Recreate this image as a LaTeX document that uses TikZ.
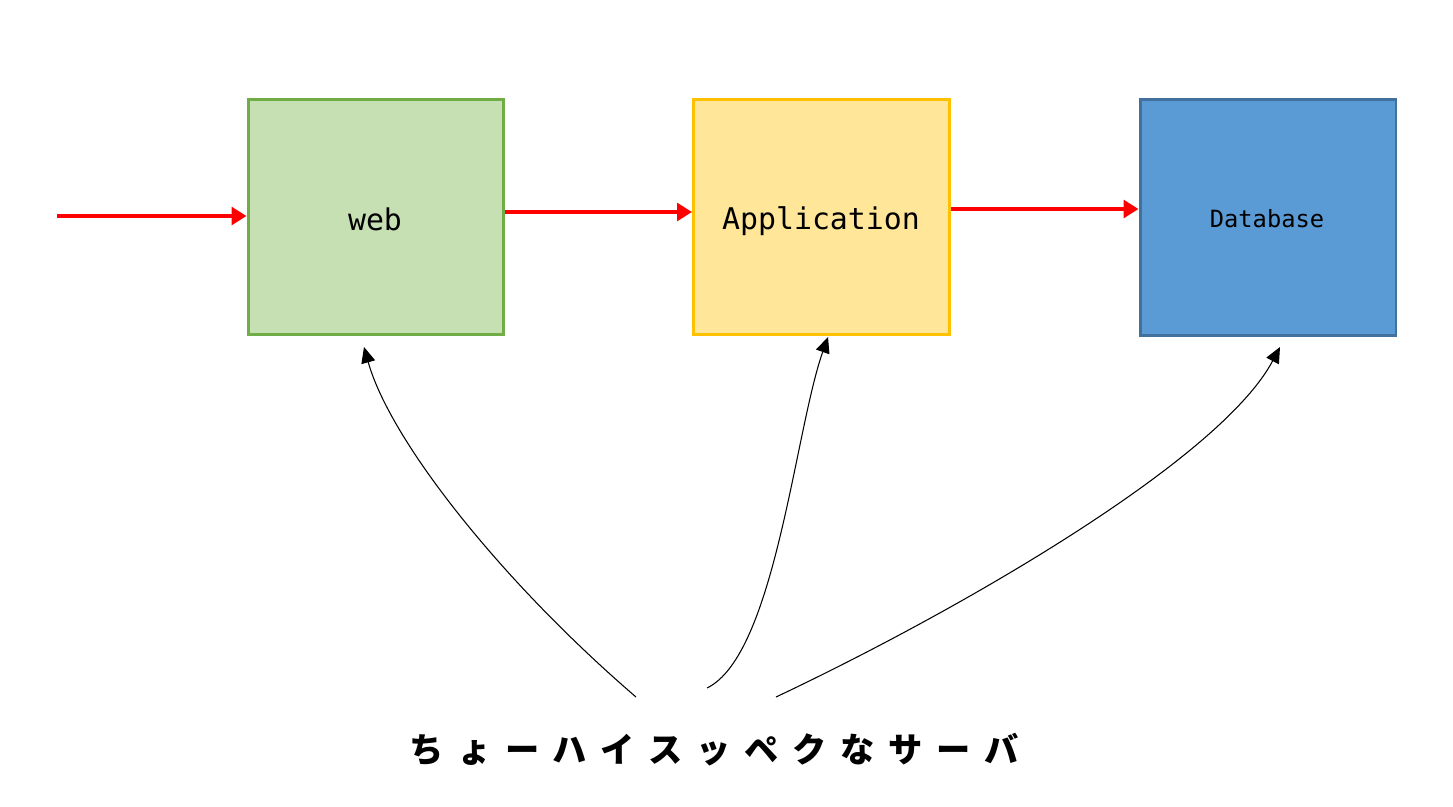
\documentclass[tikz,border=0pt]{standalone}
\usepackage{fontspec}
\setmainfont{DejaVu Sans Mono}
\newfontfamily\jpfont{Noto Sans CJK JP}
\usetikzlibrary{arrows.meta}
\definecolor{webfill}{HTML}{C6E0B4}
\definecolor{webline}{HTML}{70AD47}
\definecolor{appfill}{HTML}{FFE699}
\definecolor{appline}{HTML}{FFC000}
\definecolor{dbfill}{HTML}{5B9BD5}
\definecolor{dbline}{HTML}{41719C}
\definecolor{flowred}{HTML}{FF0000}
\tikzset{
  box/.style={draw, line width=1.7pt, minimum width=5.12cm, minimum height=4.72cm, inner sep=0pt},
  flow/.style={draw=flowred, line width=2.8pt, -{Triangle[length=8.5pt,width=10pt]}},
  link/.style={draw=black, line width=0.6pt, -{Triangle[length=9pt,width=8pt]}},
}
\begin{document}
\begin{tikzpicture}[x=0.02cm,y=-0.02cm]
\useasboundingbox (0,0) rectangle (1453,806);
\node[box, fill=webfill, draw=webline] (web) at (376,217) {};
\node[box, fill=appfill, draw=appline] (app) at (821.5,217) {};
\node[box, fill=dbfill, draw=dbline] (db) at (1268,217.5) {};
\node (weblbl) at (375,219) {\fontsize{17pt}{20pt}\selectfont web};
\node (applbl) at (821,221) {\fontsize{17pt}{20pt}\selectfont Application};
\node (dblbl) at (1267,219) {\fontsize{13.5pt}{16pt}\selectfont Database};
\node (srv) at (714,750) {\jpfont\bfseries\fontsize{19.5pt}{22pt}\selectfont ち\hspace{7.8pt}ょ\hspace{7.8pt}ー\hspace{7.8pt}ハ\hspace{7.8pt}イ\hspace{7.8pt}ス\hspace{7.8pt}ッ\hspace{7.8pt}ペ\hspace{7.8pt}ク\hspace{7.8pt}な\hspace{7.8pt}サ\hspace{7.8pt}ー\hspace{7.8pt}バ};
\coordinate (in) at (57,216);
\coordinate (s1) at (636,697);
\coordinate (s2) at (707,688);
\coordinate (s3) at (776,697);
\coordinate (e1) at (364,347);
\coordinate (e2) at (828,337);
\coordinate (e3) at (1280,347);
\draw[flow] (in) -- (web.west |- in);
\draw[flow] (web.east |- 0,212) -- (app.west |- 0,212);
\draw[flow] (app.east |- 0,209) -- (db.west |- 0,209);
\draw[link] (s1) .. controls (500,580) and (390,440) .. (e1);
\draw[link] (s2) .. controls (775,655) and (795,430) .. (e2);
\draw[link] (s3) .. controls (960,610) and (1220,460) .. (e3);
\end{tikzpicture}
\end{document}
